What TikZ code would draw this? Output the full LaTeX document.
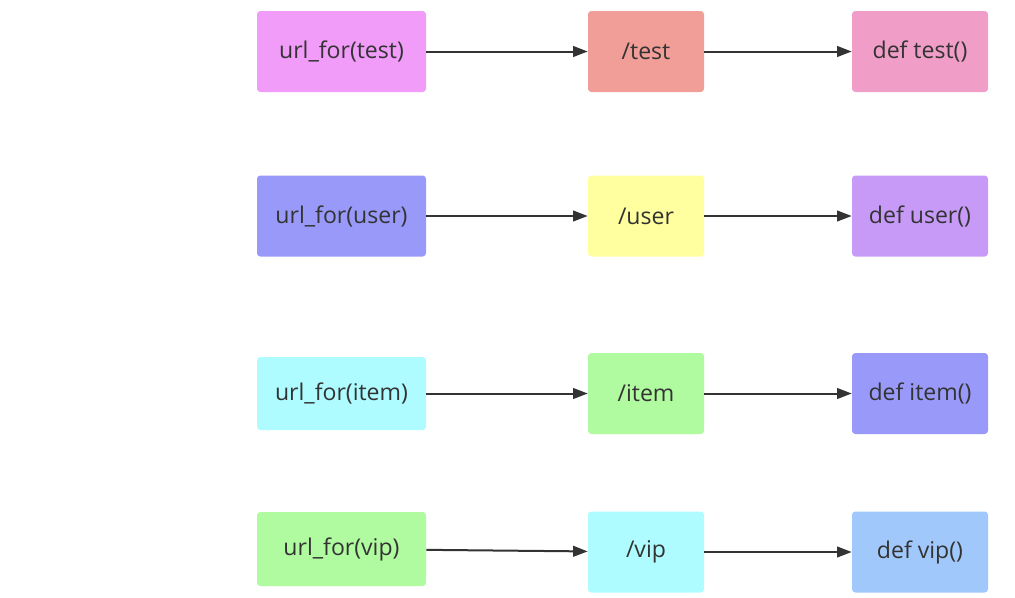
\documentclass[tikz,border=0pt]{standalone}
\usepackage{fontspec}
\setmainfont{Open Sans}
\usetikzlibrary{arrows.meta}
\definecolor{cTestU}{HTML}{F09CF8}
\definecolor{cTestP}{HTML}{F29E98}
\definecolor{cTestD}{HTML}{F09DC8}
\definecolor{cUserU}{HTML}{9999FA}
\definecolor{cUserP}{HTML}{FFFFA0}
\definecolor{cUserD}{HTML}{C89AF8}
\definecolor{cItemU}{HTML}{AEFCFF}
\definecolor{cItemP}{HTML}{B0FAA0}
\definecolor{cItemD}{HTML}{9999FA}
\definecolor{cVipU}{HTML}{B0FAA0}
\definecolor{cVipP}{HTML}{AEFCFF}
\definecolor{cVipD}{HTML}{A0C8FA}
\definecolor{ink}{HTML}{333333}
\tikzset{fbox/.style={rounded corners=2.5pt, draw=none, text=ink, inner sep=0pt, font=\fontsize{17.3}{20}\selectfont, minimum height=60.75pt}}
\tikzset{ubox/.style={fbox, minimum width=126.75pt}}
\tikzset{pbox/.style={fbox, minimum width=87pt}}
\tikzset{dbox/.style={fbox, minimum width=102pt}}
\tikzset{arr/.style={draw=ink, line width=1.5pt, -{Triangle[length=11pt,width=8pt]}}}

\begin{document}
\begin{tikzpicture}[x=0.75pt, y=-0.75pt]
			\useasboundingbox (0,0) rectangle (1015,597);
			
			\node[ubox, fill=cTestU] (U1) at (341.5,51.5){url\_for(test)};
			\node[pbox, fill=cTestP] (P1) at (646,51.5){/test};
			\node[dbox, fill=cTestD] (D1) at (920,51.5){def test()};
			
			\node[ubox, fill=cUserU] (U2) at (341.5,216){url\_for(user)};
			\node[pbox, fill=cUserP] (P2) at (646,216){/user};
			\node[dbox, fill=cUserD] (D2) at (920,216){def user()};
			
			\node[ubox, fill=cItemU, minimum height=54.75pt] (U3) at (341.5,393.5){url\_for(item)};
			\node[pbox, fill=cItemP] (P3) at (646,393.5){/item};
			\node[dbox, fill=cItemD] (D3) at (920,393.5){def item()};
			
			\node[ubox, fill=cVipU, minimum height=55.5pt] (U4) at (341.5,549){url\_for(vip)};
			\node[pbox, fill=cVipP] (P4) at (646,552){/vip};
			\node[dbox, fill=cVipD] (D4) at (920,552){def vip()};
			
			\foreach \i in {1,...,4}{
				\draw[arr] (U\i) -- (P\i);
				\draw[arr] (P\i) -- (D\i);
			}
		\end{tikzpicture}
\end{document}
